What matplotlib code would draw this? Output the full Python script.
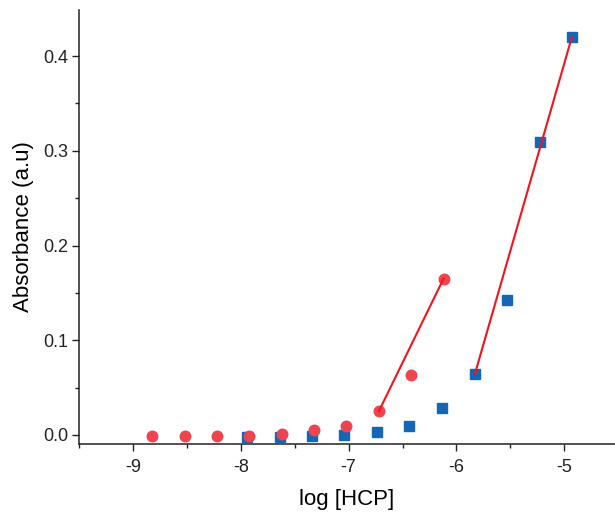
import numpy as np
import matplotlib
matplotlib.use("Agg")
import matplotlib.pyplot as plt
from matplotlib.ticker import MultipleLocator, FormatStrFormatter

plt.rcParams['font.family'] = ['Liberation Sans', 'DejaVu Sans']
plt.rcParams['axes.unicode_minus'] = False

# red circles
red_x = [-8.82, -8.52, -8.22, -7.92, -7.62, -7.32, -7.02, -6.72, -6.42, -6.12]
red_y = [-0.001, -0.001, -0.001, -0.001, 0.001, 0.005, 0.010, 0.025, 0.063, 0.165]

# blue squares
blue_x = [-7.94, -7.64, -7.34, -7.04, -6.74, -6.44, -6.13, -5.83, -5.53, -5.23, -4.93]
blue_y = [-0.002, -0.002, -0.001, 0.0, 0.003, 0.010, 0.028, 0.064, 0.142, 0.309, 0.420]

# linear ranges (index of first point of each fitted line)
red_fit_start = 7
blue_fit_start = 7

fig = plt.figure(figsize=(6.15, 5.17), dpi=100)
ax = fig.add_axes([79 / 615, 73 / 517, 536 / 615, 434 / 517])

ax.plot(blue_x, blue_y, 's', color='#1467B6', markersize=7.2, zorder=3)
ax.plot(red_x, red_y, 'o', color='#EE4450', markersize=7.6, zorder=3)

ax.plot([red_x[red_fit_start], red_x[-1]], [red_y[red_fit_start], red_y[-1]],
        color='#F0141E', linewidth=1.5, zorder=4)
ax.plot([blue_x[blue_fit_start], blue_x[-1]], [blue_y[blue_fit_start], blue_y[-1]],
        color='#F0141E', linewidth=1.5, zorder=4)

ax.set_xlim(-9.5, -4.53)
ax.set_ylim(-0.0095, 0.4486)
ax.xaxis.set_major_locator(MultipleLocator(1))
ax.xaxis.set_minor_locator(MultipleLocator(0.5))
ax.yaxis.set_major_locator(MultipleLocator(0.1))
ax.yaxis.set_minor_locator(MultipleLocator(0.05))
ax.yaxis.set_major_formatter(FormatStrFormatter('%.1f'))

for s in ['top', 'right']:
    ax.spines[s].set_visible(False)
for s in ['left', 'bottom']:
    ax.spines[s].set_linewidth(1.1)
    ax.spines[s].set_color('#222222')

ax.tick_params(which='major', direction='out', length=5, width=1.0, labelsize=13,
               colors='#222222')
ax.tick_params(axis='x', which='major', pad=6)
ax.tick_params(axis='y', which='major', pad=3)
ax.tick_params(which='minor', direction='out', length=3, width=1.0, colors='#222222')

ax.set_xlabel('log [HCP]', fontsize=16, labelpad=9)
ax.set_ylabel('Absorbance (a.u)', fontsize=16, labelpad=6)

fig.savefig('out.png', dpi=100)
